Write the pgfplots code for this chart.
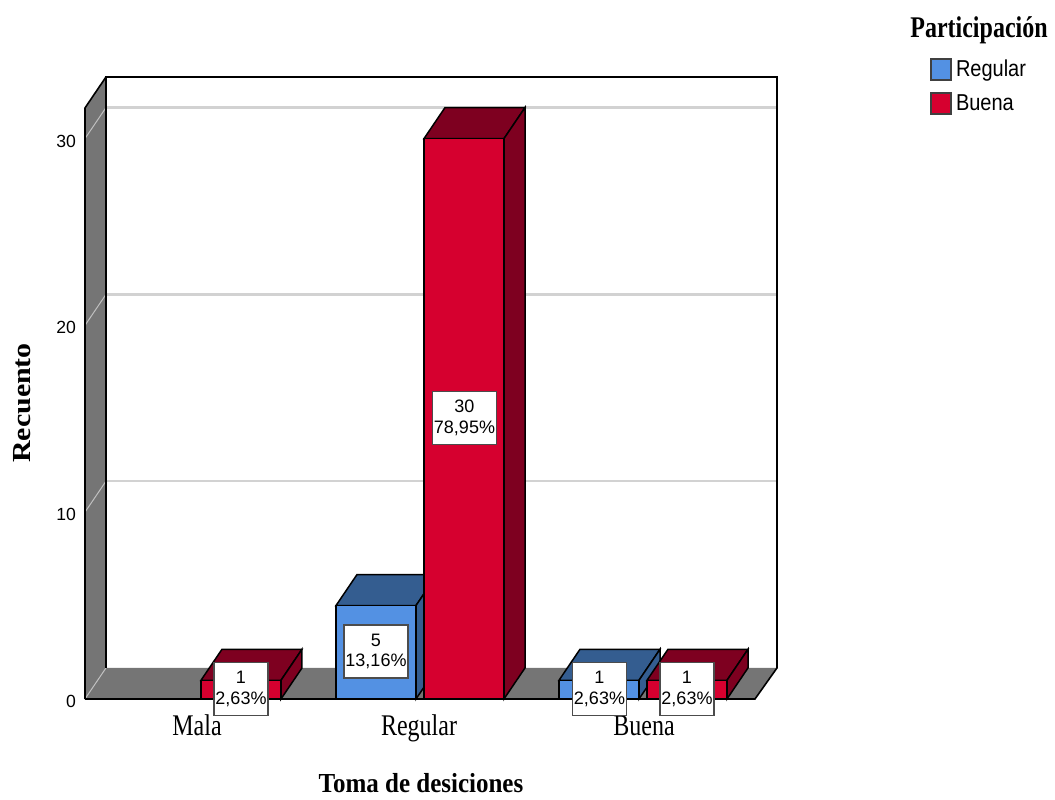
\documentclass[border=0pt]{standalone}
\usepackage{fontspec}
\setmainfont{Liberation Sans}
\newfontfamily\timesf{Liberation Serif}
\usepackage{pgfplots}
\pgfplotsset{compat=1.18}

\definecolor{wallgrey}{HTML}{757575}
\definecolor{gridgrey}{HTML}{D2D2D2}
\definecolor{blfront}{HTML}{5391E3}
\definecolor{bltop}{HTML}{345D90}
\definecolor{rdfront}{HTML}{D6002F}
\definecolor{rdtop}{HTML}{7E0020}

% x is in reference pixels (1px = 0.5pt), y is the count
\begin{document}
\begin{tikzpicture}
\begin{axis}[
  scale only axis,
  width=346pt, height=311pt,
  xmin=85, xmax=777, ymin=0, ymax=33.3,
  clip=false,
  axis line style={draw=none},
  major tick length=0pt,
  xtick={197,419,644},
  xticklabels={\scalebox{1}[1.25]{Mala},\scalebox{1}[1.25]{Regular},\scalebox{1}[1.25]{Buena}},
  ytick={0,10,20,30},
  /pgf/number format/assume math mode=true,
  yticklabel style={font=\fontsize{8.8}{10}\selectfont, xshift=-1pt, yshift=-1.2pt},
  xticklabel style={font=\timesf\fontsize{12}{14}\selectfont, text height=11pt, text depth=3pt, yshift=-3.5pt},
  xlabel={\scalebox{1}[1.1]{\textbf{Toma de desiciones}}},
  xlabel style={font=\timesf\fontsize{12.5}{14}\selectfont, at={(axis cs:421,-4.53)}, anchor=center},
  ylabel={\scalebox{1.15}[1]{\textbf{Recuento}}},
  ylabel style={font=\timesf\fontsize{13}{16}\selectfont, at={(axis cs:22,15.85)}, anchor=center},
  legend style={draw=none, fill=none, at={(axis cs:930,34.45)}, anchor=north west,
    inner sep=0pt, font=\fontsize{10}{12}\selectfont, row sep=3.5pt},
  legend cell align=left,
]
% floor and side wall
\addplot[fill=wallgrey, draw=none, forget plot] coordinates {(85,0) (106,1.66) (777,1.66) (755,0)} -- cycle;
\addplot[fill=wallgrey, draw=none, forget plot] coordinates {(85,0) (85,31.64) (106,33.3) (106,1.66)} -- cycle;
% grid on the back wall
\addplot[gridgrey, line width=1.3pt, forget plot] coordinates {(106,11.66) (777,11.66)};
\addplot[gridgrey, line width=1.3pt, forget plot] coordinates {(106,21.66) (777,21.66)};
\addplot[gridgrey, line width=1.3pt, forget plot] coordinates {(106,31.66) (777,31.66)};
% grid on the side wall
\addplot[gridgrey!80!wallgrey, line width=.5pt, forget plot] coordinates {(85,0) (106,1.66)};
\addplot[gridgrey!80!wallgrey, line width=.5pt, forget plot] coordinates {(85,10) (106,11.66)};
\addplot[gridgrey!80!wallgrey, line width=.5pt, forget plot] coordinates {(85,20) (106,21.66)};
\addplot[gridgrey!80!wallgrey, line width=.5pt, forget plot] coordinates {(85,30) (106,31.66)};
% frame
\addplot[black, line width=.8pt, forget plot] coordinates {(85,0) (755,0) (777,1.66) (777,33.3) (106,33.3) (106,1.66)};
\addplot[black, line width=.8pt, forget plot] coordinates {(85,0) (85,31.64) (106,33.3)};

% Regular: top and side faces, then front
\addplot[fill=bltop, draw=black, line width=.75pt, forget plot] coordinates {(336,5) (357,6.66) (437,6.66) (416,5)} -- cycle;
\addplot[fill=bltop, draw=black, line width=.75pt, forget plot] coordinates {(416,0) (437,1.66) (437,6.66) (416,5)} -- cycle;
\addplot[fill=bltop, draw=black, line width=.75pt, forget plot] coordinates {(559,1) (580,2.66) (660,2.66) (639,1)} -- cycle;
\addplot[fill=bltop, draw=black, line width=.75pt, forget plot] coordinates {(639,0) (660,1.66) (660,2.66) (639,1)} -- cycle;
\addplot[ybar, bar shift=0pt, bar width=40pt, fill=blfront, draw=black, line width=.75pt, forget plot]
  coordinates {(376,5) (599,1)};

% Buena: top and side faces, then front
\addplot[fill=rdtop, draw=black, line width=.75pt, forget plot] coordinates {(201,1) (222,2.66) (302,2.66) (281,1)} -- cycle;
\addplot[fill=rdtop, draw=black, line width=.75pt, forget plot] coordinates {(281,0) (302,1.66) (302,2.66) (281,1)} -- cycle;
\addplot[fill=rdtop, draw=black, line width=.75pt, forget plot] coordinates {(424,30) (445,31.66) (525,31.66) (504,30)} -- cycle;
\addplot[fill=rdtop, draw=black, line width=.75pt, forget plot] coordinates {(504,0) (525,1.66) (525,31.66) (504,30)} -- cycle;
\addplot[fill=rdtop, draw=black, line width=.75pt, forget plot] coordinates {(647,1) (668,2.66) (748,2.66) (727,1)} -- cycle;
\addplot[fill=rdtop, draw=black, line width=.75pt, forget plot] coordinates {(727,0) (748,1.66) (748,2.66) (727,1)} -- cycle;
\addplot[ybar, bar shift=0pt, bar width=40pt, fill=rdfront, draw=black, line width=.75pt, forget plot]
  coordinates {(241,1) (464,30) (687,1)};

\addlegendimage{legend image code/.code={
  \draw[black!75, line width=.8pt, fill=blfront] (0pt,-5pt) rectangle (10pt,5.5pt);}}
\addlegendentry{\scalebox{1}[1.15]{Regular}}
\addlegendimage{legend image code/.code={
  \draw[black!75, line width=.8pt, fill=rdfront] (0pt,-5pt) rectangle (10pt,5.5pt);}}
\addlegendentry{\scalebox{1}[1.15]{Buena}}

% value boxes
\tikzset{vbox/.style={draw=black!70, line width=.85pt, fill=white, align=center,
  font=\fontsize{9}{10.2}\selectfont, inner xsep=.8pt, inner ysep=1.5pt, minimum height=26.5pt}}
\node[vbox] at (axis cs:241,0.53) {1\\2,63\%};
\node[vbox] at (axis cs:376,2.54) {5\\13,16\%};
\node[vbox] at (axis cs:464.5,15.04) {30\\78,95\%};
\node[vbox] at (axis cs:599.5,0.53) {1\\2,63\%};
\node[vbox] at (axis cs:687,0.53) {1\\2,63\%};

\node[font=\timesf\bfseries\fontsize{12}{14}\selectfont] at (axis cs:979,35.98-0.16) {\scalebox{1}[1.25]{Participación}};

% page size
\path (axis cs:0,-5.19) rectangle (axis cs:1055,37.42);
\end{axis}
\end{tikzpicture}
\end{document}
